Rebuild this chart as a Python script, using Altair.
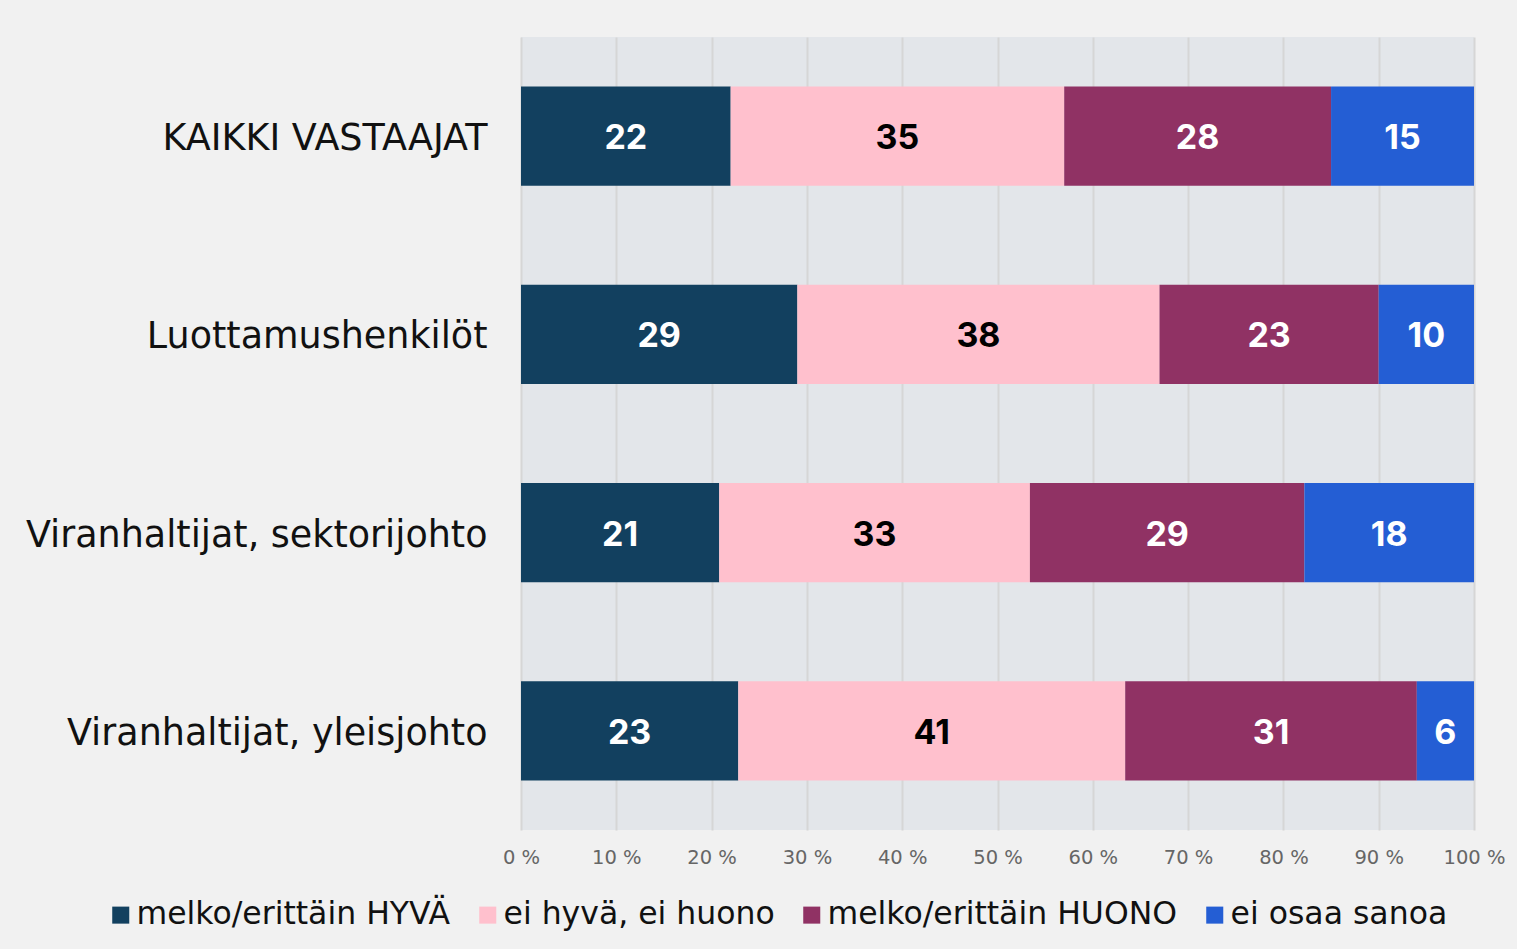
import altair as alt
import pandas as pd

groups = ["KAIKKI VASTAAJAT", "Luottamushenkilöt", "Viranhaltijat, sektorijohto", "Viranhaltijat, yleisjohto"]
categories = ["melko/erittäin HYVÄ", "ei hyvä, ei huono", "melko/erittäin HUONO", "ei osaa sanoa"]
colors = ["#12405f", "#ffc0cd", "#903264", "#245ed4"]
text_colors = ["white", "black", "white", "white"]

good = [22.0, 29.0, 20.8, 22.8]
neutral = [35.0, 38.0, 32.6, 40.6]
bad = [28.0, 23.0, 28.8, 30.6]
dont_know = [15.0, 10.0, 17.8, 6.0]

series = [good, neutral, bad, dont_know]
rows = []
for ci, (cat, vals) in enumerate(zip(categories, series)):
    for gi, g in enumerate(groups):
        rows.append({"group": g, "category": cat, "order": ci, "value": vals[gi],
                     "label": str(int(round(vals[gi]))), "tcolor": text_colors[ci]})
df = pd.DataFrame(rows)

FONT = "DejaVu Sans"
BOLD = "Inter"

base = alt.Chart(df).transform_stack(
    stack="value", groupby=["group"], as_=["x0", "x1"],
    sort=[alt.SortField("order", order="ascending")]
).transform_calculate(mid="(datum.x0 + datum.x1) / 2")

y_enc = alt.Y("group:N", sort=groups, title=None,
              scale=alt.Scale(paddingInner=0.5, paddingOuter=0.25),
              axis=alt.Axis(domain=False, ticks=False, labelFontSize=36.5, labelFont=FONT,
                            labelColor="#111111", labelPadding=34, labelLimit=600,
                            labelOffset=3, minExtent=516, maxExtent=516, grid=False))

bars = base.mark_bar().encode(
    x=alt.X("x0:Q", title=None, scale=alt.Scale(domain=[0, 100], nice=False),
            axis=alt.Axis(values=list(range(0, 101, 10)), labelExpr="datum.value + ' %'",
                          domain=False, ticks=False, grid=True, gridColor="#d6d6d6",
                          gridWidth=2, labelFontSize=19.5, labelFont=FONT, labelColor="#666666",
                          labelPadding=18, labelFlush=False)),
    x2="x1:Q",
    y=y_enc,
    color=alt.Color("category:N", sort=categories,
                    scale=alt.Scale(domain=categories, range=colors),
                    legend=alt.Legend(title=None, orient="none", legendX=-416, legendY=862,
                                      direction="horizontal", columns=4, symbolType="square",
                                      symbolSize=290, symbolStrokeWidth=0, labelFontSize=31.5,
                                      labelFont=FONT, labelColor="#111111", labelOffset=0,
                                      columnPadding=21, labelLimit=600)),
)

texts = base.mark_text(font=BOLD, fontSize=34, fontWeight="bold", baseline="middle",
                       align="center", dy=3).encode(
    x=alt.X("mid:Q"),
    y=alt.Y("group:N", sort=groups),
    text="label:N",
    color=alt.Color("tcolor:N", scale=None, legend=None),
)

chart = alt.layer(bars, texts).properties(
    width=953, height=793,
    padding={"left": 5, "top": 37, "right": 12, "bottom": 18},
    background="#f1f1f1",
).configure_view(fill="#e3e6ea", stroke=None)

chart.save("out.html", embed_options={"renderer": "svg", "actions": False})
